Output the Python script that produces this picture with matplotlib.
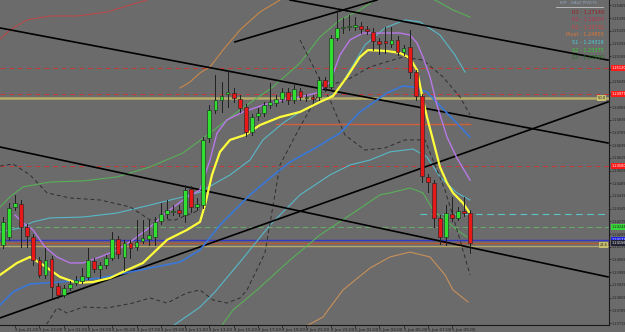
import matplotlib
matplotlib.use("Agg")
import matplotlib.pyplot as plt
import matplotlib.transforms as mtransforms
from matplotlib.patches import Rectangle

# ---- M30 candles, index 0 = 3 Jun 20:00 ----
opens = [1.24145, 1.24189, 1.24354, 1.24371, 1.24244, 1.24189, 1.24062, 1.23980, 1.24068, 1.23919,
         1.23870, 1.23908, 1.23936, 1.23947, 1.23969, 1.24057, 1.24013, 1.24035, 1.24073, 1.24178,
         1.24079, 1.24156, 1.24134, 1.24167, 1.24178, 1.24189, 1.24277, 1.24316, 1.24327, 1.24338,
         1.24310, 1.24454, 1.24354, 1.24365, 1.24735, 1.24889, 1.24944, 1.24977, 1.24983, 1.24950,
         1.24905, 1.24768, 1.24856, 1.24872, 1.24916, 1.24927, 1.24950, 1.24988, 1.24944, 1.24994,
         1.24955, 1.24961, 1.24961, 1.25054, 1.25016, 1.25286, 1.25341, 1.25346, 1.25346, 1.25352,
         1.25335, 1.25319, 1.25269, 1.25269, 1.25253, 1.25275, 1.25208, 1.25236, 1.25098, 1.24966,
         1.24520, 1.24487, 1.24294, 1.24189, 1.24316, 1.24294, 1.24332, 1.24321]
highs = [1.24299, 1.24376, 1.24421, 1.24393, 1.24261, 1.24206, 1.24079, 1.24129, 1.24084, 1.23936,
         1.23925, 1.23947, 1.23974, 1.24018, 1.24129, 1.24073, 1.24051, 1.24090, 1.24217, 1.24195,
         1.24173, 1.24173, 1.24283, 1.24283, 1.24283, 1.24299, 1.24376, 1.24393, 1.24365, 1.24365,
         1.24476, 1.24470, 1.24404, 1.24740, 1.24916, 1.25082, 1.25043, 1.25109, 1.25010, 1.24972,
         1.24922, 1.24867, 1.24900, 1.24933, 1.25038, 1.24972, 1.25010, 1.25010, 1.25027, 1.25010,
         1.24977, 1.24972, 1.25071, 1.25071, 1.25302, 1.25451, 1.25396, 1.25412, 1.25401, 1.25374,
         1.25352, 1.25341, 1.25286, 1.25346, 1.25346, 1.25297, 1.25247, 1.25330, 1.25109, 1.24977,
         1.24536, 1.24503, 1.24310, 1.24365, 1.24410, 1.24354, 1.24410, 1.24338]
lows = [1.24129, 1.24173, 1.24338, 1.24134, 1.24134, 1.24035, 1.23969, 1.23963, 1.23853, 1.23853,
        1.23859, 1.23897, 1.23925, 1.23936, 1.23958, 1.23996, 1.23963, 1.24018, 1.24062, 1.24073,
        1.24007, 1.24073, 1.24117, 1.24156, 1.24145, 1.24145, 1.24261, 1.24294, 1.24310, 1.24305,
        1.24272, 1.24327, 1.24338, 1.24349, 1.24713, 1.24872, 1.24878, 1.24905, 1.24933, 1.24878,
        1.24746, 1.24751, 1.24834, 1.24856, 1.24900, 1.24911, 1.24933, 1.24922, 1.24927, 1.24944,
        1.24938, 1.24933, 1.24944, 1.24999, 1.25005, 1.25275, 1.25313, 1.25330, 1.25330, 1.25313,
        1.25308, 1.25219, 1.25197, 1.25203, 1.25236, 1.25192, 1.25192, 1.25065, 1.24944, 1.24492,
        1.24437, 1.24244, 1.24151, 1.24145, 1.24277, 1.24283, 1.24305, 1.24101]
closes = [1.24272, 1.24349, 1.24376, 1.24244, 1.24195, 1.24062, 1.23980, 1.24062, 1.23914, 1.23870,
          1.23908, 1.23930, 1.23952, 1.23974, 1.24062, 1.24013, 1.24035, 1.24073, 1.24178, 1.24095,
          1.24156, 1.24129, 1.24162, 1.24184, 1.24200, 1.24272, 1.24316, 1.24338, 1.24332, 1.24321,
          1.24448, 1.24354, 1.24371, 1.24724, 1.24889, 1.24944, 1.24966, 1.24988, 1.24955, 1.24900,
          1.24768, 1.24850, 1.24872, 1.24916, 1.24933, 1.24950, 1.24988, 1.24944, 1.25005, 1.24961,
          1.24961, 1.24950, 1.25054, 1.25016, 1.25286, 1.25341, 1.25346, 1.25352, 1.25357, 1.25335,
          1.25324, 1.25269, 1.25253, 1.25258, 1.25275, 1.25208, 1.25231, 1.25098, 1.24966, 1.24525,
          1.24492, 1.24294, 1.24189, 1.24321, 1.24294, 1.24332, 1.24321, 1.24156]

# ---- indicator curves (bar index, price) ----
yellow_x = [-0.49, 2.31, 4.45, 6.59, 9.39, 12.19, 14.83, 17.63, 20.43, 23.06, 27.02, 30.31, 32.45, 33.28,
            34.43, 35.75, 37.40, 39.87, 42.34, 45.63, 48.93, 52.22, 54.37, 56.67, 58.81, 60.13, 63.26,
            65.40, 67.05, 68.20, 69.03, 69.85, 70.84, 71.99, 73.15, 74.14, 75.78, 76.77]
yellow_y = [1.23980, 1.24046, 1.24079, 1.24035, 1.23969, 1.23936, 1.23941, 1.23963, 1.24007, 1.24046,
            1.24173, 1.24228, 1.24272, 1.24365, 1.24531, 1.24658, 1.24724, 1.24751, 1.24806, 1.24850,
            1.24878, 1.24933, 1.24966, 1.25071, 1.25181, 1.25219, 1.25214, 1.25203, 1.25175, 1.25109,
            1.24972, 1.24850, 1.24724, 1.24575, 1.24487, 1.24432, 1.24376, 1.24327]

purple_x = [1.98, 3.13, 4.94, 6.92, 8.90, 11.04, 13.18, 15.98, 18.78, 21.42, 24.22, 27.02, 29.65, 32.45,
            34.10, 35.26, 36.90, 39.54, 42.83, 46.13, 48.93, 51.73, 53.87, 55.52, 57.17, 59.31, 62.11,
            65.40, 67.05, 68.20, 69.19, 70.35, 71.50, 73.15, 74.79, 76.94]
purple_y = [1.24310, 1.24272, 1.24228, 1.24134, 1.24079, 1.24046, 1.24046, 1.24079, 1.24117, 1.24173,
            1.24244, 1.24327, 1.24393, 1.24448, 1.24613, 1.24762, 1.24834, 1.24878, 1.24916, 1.24944,
            1.24961, 1.24983, 1.25043, 1.25192, 1.25275, 1.25313, 1.25313, 1.25313, 1.25302, 1.25258,
            1.25181, 1.25071, 1.24916, 1.24740, 1.24624, 1.24503]

blue_x = [-0.49, 1.65, 4.45, 9.39, 15.98, 24.22, 29.16, 32.45, 35.75, 40.69, 43.99, 47.28, 51.73, 55.52,
          58.81, 63.26, 65.90, 67.55, 69.85, 73.15, 76.94]
blue_y = [1.23814, 1.23886, 1.23930, 1.23941, 1.23963, 1.24018, 1.24051, 1.24117, 1.24255, 1.24421,
          1.24514, 1.24602, 1.24685, 1.24762, 1.24878, 1.24983, 1.25021, 1.25016, 1.24988, 1.24872,
          1.24740]

cyan_up_x = [-0.49, 2.80, 4.94, 7.74, 13.18, 18.78, 24.22, 29.65, 32.45, 37.40, 40.69, 42.83, 46.13,
             49.42, 52.72, 55.02, 57.17, 59.64, 62.93, 66.23, 68.70, 71.99, 74.46, 76.11]
cyan_up_y = [1.24217, 1.24239, 1.24272, 1.24294, 1.24299, 1.24321, 1.24365, 1.24410, 1.24437, 1.24531,
             1.24613, 1.24724, 1.24817, 1.24889, 1.24944, 1.24983, 1.25109, 1.25247, 1.25341, 1.25385,
             1.25374, 1.25302, 1.25192, 1.25098]
cyan_lo_x = [25.86, 32.45, 34.92, 39.04, 44.00, 48.93, 53.87, 57.17, 60.46, 63.76, 67.55, 69.85, 71.99,
             74.79, 76.94]
cyan_lo_y = [1.23649, 1.23803, 1.23886, 1.24051, 1.24255, 1.24421, 1.24531, 1.24586, 1.24613, 1.24658,
             1.24674, 1.24630, 1.24520, 1.24432, 1.24393]

green_up_x = [-0.49, 1.15, 3.29, 7.74, 13.18, 18.78, 24.22, 29.65, 34.10, 39.04, 44.48, 48.93, 52.22,
              55.52, 58.81, 61.29, 64.58, 68.70, 71.17, 74.14, 76.94]
green_up_y = [1.24354, 1.24410, 1.24465, 1.24492, 1.24498, 1.24520, 1.24575, 1.24652, 1.24762, 1.24889,
              1.25016, 1.25148, 1.25291, 1.25385, 1.25440, 1.25495, 1.25528, 1.25528, 1.25495, 1.25440,
              1.25401]
green_lo_x = [34.92, 37.90, 41.85, 47.28, 52.22, 57.17, 62.11, 63.76, 67.05, 69.19, 70.84, 74.79, 76.44]
green_lo_y = [1.23649, 1.23787, 1.23897, 1.24062, 1.24200, 1.24310, 1.24421, 1.24432, 1.24459, 1.24432,
              1.24338, 1.24228, 1.24189]

orange_up_x = [29.16, 30.81, 32.45, 34.10, 36.24, 39.04, 42.34, 45.63]
orange_up_y = [1.25010, 1.25043, 1.25093, 1.25126, 1.25219, 1.25330, 1.25429, 1.25495]
orange_lo_x = [47.28, 52.72, 56.01, 60.46, 63.76, 67.05, 70.35, 72.82, 74.14, 76.61]
orange_lo_y = [1.23649, 1.23748, 1.23897, 1.24018, 1.24079, 1.24106, 1.24079, 1.23980, 1.23897, 1.23831]

red_up_x = [-0.49, 1.15, 3.95, 7.74, 12.19, 17.13, 23.72, 25.86]
red_up_y = [1.25280, 1.25330, 1.25385, 1.25407, 1.25407, 1.25429, 1.25495, 1.25523]

dash_lo_x = [6.59, 8.90, 10.54, 13.18, 17.13, 21.42, 24.22, 27.02, 30.31, 32.45, 34.60, 36.90, 39.04,
             40.20, 43.16, 45.63, 48.93, 51.73, 53.87, 56.67, 60.46, 65.90, 69.19, 72.48, 75.29, 76.94]
dash_lo_y = [1.23677, 1.23798, 1.23770, 1.23803, 1.23798, 1.23825, 1.23853, 1.23825, 1.23881, 1.23897,
             1.23842, 1.23825, 1.23853, 1.23897, 1.24101, 1.24586, 1.24795, 1.24961, 1.25027, 1.25054,
             1.25126, 1.25181, 1.25164, 1.25071, 1.24961, 1.24862]
dash_up_x = [-0.49, 1.65, 4.45, 7.25, 11.04, 15.98, 20.93, 24.22, 28.34, 32.45]
dash_up_y = [1.24580, 1.24591, 1.24531, 1.24432, 1.24404, 1.24393, 1.24355, 1.24283, 1.24283, 1.24338]
dash_r_x = [48.93, 51.40, 53.87, 56.34, 59.64, 62.93, 66.23, 69.52, 72.82, 75.29, 76.94]
dash_r_y = [1.25275, 1.25109, 1.24944, 1.24751, 1.24668, 1.24680, 1.24724, 1.24724, 1.24448, 1.24173,
            1.23980]

# ---- hand drawn trend lines (two anchors each) ----
trend_x = [(-0.49, 99.67), (-0.49, 99.67), (-0.49, 99.67), (47.28, 99.67), (38.2, 61.61)]
trend_y = [(1.25341, 1.24707), (1.24685, 1.23969), (1.23743, 1.24933), (1.25495, 1.25164),
           (1.25264, 1.25495)]

# ---- horizontal levels ----
red_levels = [1.25120, 1.24977, 1.24580]
fibo_level = 1.24955
orange_level = 1.24812
s1_level = 1.24316
green_level = 1.24244
blue_level = 1.24173
brown_level = 1.24156
tan_level = 1.24140

pivot_names = ["R3", "R2", "R1", "Pivot", "S1", "S2", "S3"]
pivot_values = [1.27148, 1.26207, 1.25732, 1.24855, 1.24316, 1.23375, 1.22900]
pivot_colors = ["#9a2020", "#c0304a", "#d04040", "#e07838", "#48d0e0", "#38d038", "#207020"]

time_labels = ["3 Jun 21:00", "3 Jun 23:00", "4 Jun 01:00", "4 Jun 03:00", "4 Jun 05:00",
               "4 Jun 07:00", "4 Jun 09:00", "4 Jun 11:00", "4 Jun 13:00", "4 Jun 15:00",
               "4 Jun 17:00", "4 Jun 19:00", "4 Jun 21:00", "4 Jun 23:00", "5 Jun 01:00",
               "5 Jun 03:00", "5 Jun 05:00", "5 Jun 07:00", "5 Jun 09:00"]
time_pos = [2 + 4 * k for k in range(len(time_labels))]
price_ticks = [round(1.23715 + 0.0007 * k, 5) for k in range(26)]

BG = "#6b6b6b"

fig = plt.figure(figsize=(6.25, 3.32), dpi=100, facecolor=BG)
ax = fig.add_axes([0, 7 / 332, 609 / 625, 325 / 332])
ax.set_facecolor(BG)
ax.set_xlim(-0.494, 99.84)
ax.set_ylim(1.23704, 1.25495)

# horizontal levels
for lv in red_levels:
    ax.axhline(lv, color="#c83a32", lw=0.7, dashes=(5, 4))
ax.axhline(fibo_level, color="#b8ad68", lw=1.8)
ax.plot([45.0, 77.0], [orange_level, orange_level], color="#d0603a", lw=1.0)
ax.plot([68.7, 99.84], [s1_level, s1_level], color="#5cc4c8", lw=0.8, dashes=(6, 4))
ax.axhline(green_level, color="#68a868", lw=0.8, dashes=(5, 3))
ax.axhline(blue_level, color="#3535c8", lw=1.0)
ax.axhline(brown_level, color="#b65a3a", lw=1.0)
ax.axhline(tan_level, color="#b8a868", lw=1.0)

# envelopes / bands
ax.plot(red_up_x, red_up_y, color="#b84848", lw=0.8)
ax.plot(orange_up_x, orange_up_y, color="#c88848", lw=0.8)
ax.plot(orange_lo_x, orange_lo_y, color="#c8905a", lw=0.8)
ax.plot(green_up_x, green_up_y, color="#58b058", lw=0.8)
ax.plot(green_lo_x, green_lo_y, color="#58b058", lw=0.8)
ax.plot(cyan_up_x, cyan_up_y, color="#58b8c8", lw=0.8)
ax.plot(cyan_lo_x, cyan_lo_y, color="#58b8c8", lw=0.8)
for xs, ys in [(dash_lo_x, dash_lo_y), (dash_up_x, dash_up_y), (dash_r_x, dash_r_y)]:
    ax.plot(xs, ys, color="#2e2e2e", lw=0.7, dashes=(4, 3))

# trend lines
for xs, ys in zip(trend_x, trend_y):
    ax.plot(xs, ys, color="black", lw=1.2)

# moving averages
ax.plot(blue_x, blue_y, color="#3a78d8", lw=1.2)
ax.plot(purple_x, purple_y, color="#b878e8", lw=1.0)
ax.plot(yellow_x, yellow_y, color="#ffff3c", lw=1.6)

# candles
w = 0.62
for i, (o, h, l, c) in enumerate(zip(opens, highs, lows, closes)):
    ax.plot([i, i], [l, h], color="#202020", lw=0.7, zorder=4)
    col = "#30e030" if c >= o else "#e81818"
    bottom = min(o, c)
    height = max(abs(c - o), 0.000025)
    ax.add_patch(Rectangle((i - w / 2, bottom), w, height, facecolor=col,
                           edgecolor="#202020", lw=0.4, zorder=5))

# axes styling
for side in ["top", "left"]:
    ax.spines[side].set_visible(False)
for side in ["right", "bottom"]:
    ax.spines[side].set_color("#1a1a1a")
    ax.spines[side].set_linewidth(0.8)
ax.yaxis.tick_right()
ax.set_yticks(price_ticks)
ax.set_yticklabels([f"{v:.5f}" for v in price_ticks])
ax.tick_params(axis="y", labelsize=2.5, colors="#1e1e1e", length=1.5, width=0.5, pad=0.6)
ax.set_xticks(time_pos)
ax.set_xticklabels(time_labels)
ax.tick_params(axis="x", labelsize=3, colors="#1e1e1e", length=2, width=0.5, pad=0.5)
for t in ax.get_xticklabels():
    t.set_ha("left")

# price tags on the right scale
trans = mtransforms.blended_transform_factory(ax.transAxes, ax.transData)
tags = [(red_levels[0], "#ff1a1a", "white"), (red_levels[1], "#ff1a1a", "white"),
        (red_levels[2], "#ff1a1a", "white"), (green_level, "#38d838", "#1e1e1e"),
        (blue_level, "#2020e0", "white"), (brown_level, "#202030", "white")]
for lv, fc, tc in tags:
    ax.text(1.004, lv, f"{lv:.5f}", transform=trans, fontsize=2.5, color=tc, va="center", ha="left",
            bbox=dict(facecolor=fc, edgecolor="none", pad=0.5), clip_on=False, zorder=6)
ax.text(0.995, fibo_level, "50.0", transform=trans, fontsize=2.6, color="#202020", va="center",
        ha="right", bbox=dict(facecolor="#c8c070", edgecolor="none", pad=0.4), zorder=6)
ax.text(0.998, tan_level + 0.00005, "23.6", transform=trans, fontsize=2.6, color="#202020",
        va="center", ha="right", bbox=dict(facecolor="#c8c070", edgecolor="none", pad=0.4), zorder=6)

# daily pivots legend
fig.text(578 / 625, 1 - 2.5 / 332, "EPF - DAILY PIVOTS", fontsize=2.8, color="#8fa8c0",
         ha="center", va="center")
fig.add_artist(plt.Line2D([556 / 625, 603 / 625], [1 - 6.5 / 332, 1 - 6.5 / 332],
                          color="#d8d8d8", lw=0.5))
for k, (nm, val, colr) in enumerate(zip(pivot_names, pivot_values, pivot_colors)):
    fig.text(604 / 625, 1 - (12 + 7.6 * k) / 332, f"{nm} - {val:.5f}", fontsize=3.6,
             color=colr, ha="right", va="center")

fig.savefig("out.png", dpi=100, facecolor=BG)
